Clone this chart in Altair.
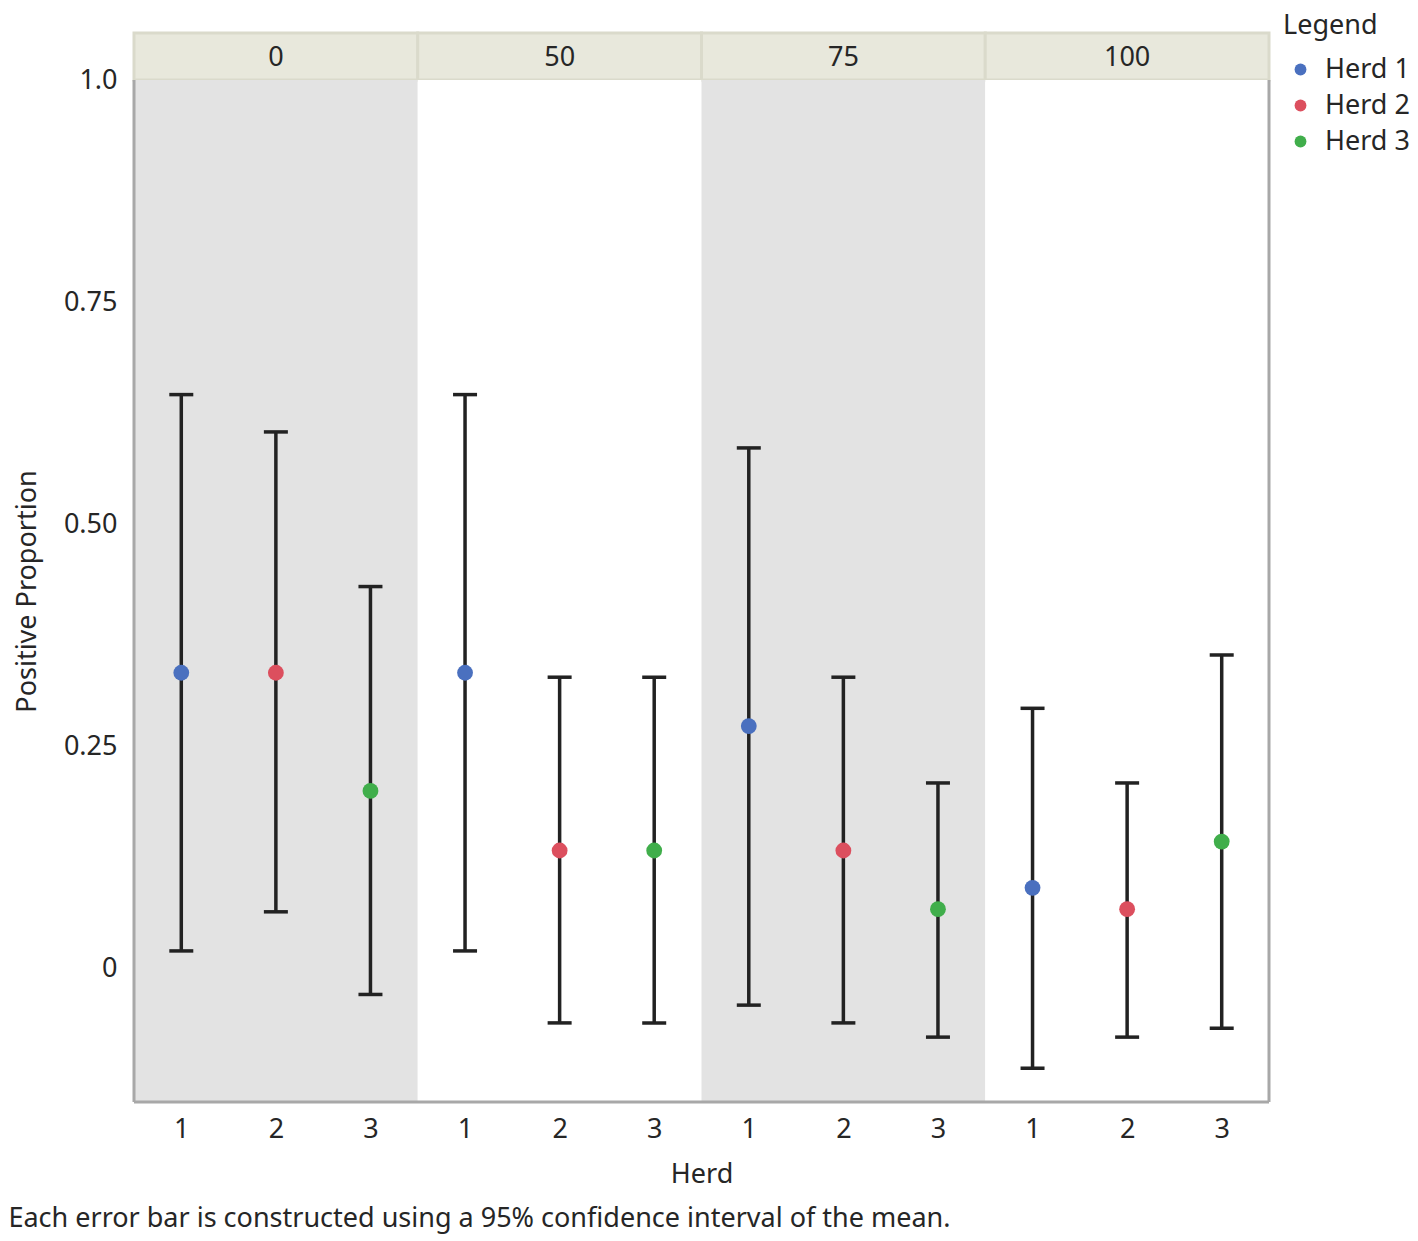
import altair as alt
import pandas as pd

# ---- data ----
concentrations = ["0", "50", "75", "100"]
herds = ["Herd 1", "Herd 2", "Herd 3"]
means = [0.333, 0.333, 0.200,
         0.333, 0.133, 0.133,
         0.273, 0.133, 0.067,
         0.091, 0.067, 0.143]
lowers = [0.020, 0.064, -0.029,
          0.020, -0.061, -0.061,
          -0.041, -0.061, -0.077,
          -0.112, -0.077, -0.067]
uppers = [0.646, 0.604, 0.430,
          0.646, 0.328, 0.328,
          0.586, 0.328, 0.209,
          0.293, 0.209, 0.353]
caption = "Each error bar is constructed using a 95% confidence interval of the mean."

herd_colors = ["#4a70bf", "#dc4f5e", "#40ae4b"]

rows = []
for pi, c in enumerate(concentrations):
    for hi, h in enumerate(herds):
        k = pi * len(herds) + hi
        rows.append({"conc": c, "herd": h, "slot": k + 0.5,
                     "mean": means[k], "lo": lowers[k], "hi": uppers[k]})
df = pd.DataFrame(rows)

panels = pd.DataFrame({
    "conc": concentrations,
    "start": [i * len(herds) for i in range(len(concentrations))],
})
panels["end"] = panels["start"] + len(herds)
panels["mid"] = panels["start"] + len(herds) / 2
panels["shade"] = [i % 2 == 0 for i in range(len(concentrations))]

W = 1135
H = 1022
HH = 47
FONT = "Noto Sans"
FS = 27
TXT = "#262626"
n_slots = len(concentrations) * len(herds)

xscale = alt.Scale(domain=[0, n_slots], nice=False, zero=False)
yscale = alt.Scale(domain=[-0.15, 1.0], nice=False, zero=False)

xaxis = alt.Axis(
    values=[i + 0.5 for i in range(n_slots)],
    labelExpr="floor(datum.value) % 3 + 1",
    title="Herd", grid=False, ticks=False, domain=False,
    labelFontSize=FS, labelPadding=14, titleFontSize=FS, titlePadding=19,
    labelColor=TXT, titleColor=TXT, titleFontWeight="normal",
)
yaxis = alt.Axis(
    values=[0, 0.25, 0.5, 0.75, 1.0],
    labelExpr="datum.value == 0 ? '0' : datum.value == 1 ? '1.0' : format(datum.value, '.2f')",
    title="Positive Proportion", grid=False, ticks=False, domain=False,
    labelFontSize=FS, labelPadding=17, titleFontSize=FS, titlePadding=22,
    labelColor=TXT, titleColor=TXT, titleFontWeight="normal",
)

# ---- header strip ----
hbase = alt.Chart(panels)
hrect = hbase.mark_rect(fill="#e8e8dc", stroke="#dadacb", strokeWidth=3).encode(
    x=alt.X("start:Q", scale=xscale, axis=None),
    x2="end:Q",
    y=alt.value(0), y2=alt.value(HH),
)
htext = hbase.mark_text(fontSize=FS, color=TXT, font=FONT).encode(
    x=alt.X("mid:Q", scale=xscale, axis=None),
    y=alt.value(HH / 2 + 1),
    text="conc:N",
)
header = alt.layer(hrect, htext).properties(width=W, height=HH)

# ---- main panel ----
bands = alt.Chart(panels).mark_rect().encode(
    x=alt.X("start:Q", scale=xscale, axis=xaxis),
    x2="end:Q",
    y=alt.value(0), y2=alt.value(H),
    fill=alt.condition("datum.shade", alt.value("#e3e3e3"), alt.value("#ffffff")),
)
base = alt.Chart(df)
bars = base.mark_rule(color="#222222", strokeWidth=3.5).encode(
    x=alt.X("slot:Q", scale=xscale, axis=xaxis),
    y=alt.Y("lo:Q", scale=yscale, axis=yaxis),
    y2="hi:Q",
)
caps_hi = base.mark_tick(orient="horizontal", size=24, thickness=3.5, color="#222222", opacity=1).encode(
    x=alt.X("slot:Q", scale=xscale, axis=xaxis),
    y=alt.Y("hi:Q", scale=yscale, axis=yaxis),
)
caps_lo = base.mark_tick(orient="horizontal", size=24, thickness=3.5, color="#222222", opacity=1).encode(
    x=alt.X("slot:Q", scale=xscale, axis=xaxis),
    y=alt.Y("lo:Q", scale=yscale, axis=yaxis),
)
points = base.mark_circle(size=250, opacity=1).encode(
    x=alt.X("slot:Q", scale=xscale, axis=xaxis),
    y=alt.Y("mean:Q", scale=yscale, axis=yaxis),
    color=alt.Color(
        "herd:N",
        scale=alt.Scale(domain=herds, range=herd_colors),
        legend=alt.Legend(
            title="Legend", orient="none", legendX=1149, legendY=-20,
            titleFontSize=FS, labelFontSize=FS, titleFontWeight="normal",
            titleColor=TXT, labelColor=TXT, titlePadding=16,
            symbolType="circle", symbolSize=140, symbolOffset=4,
            labelOffset=11, rowPadding=8, symbolStrokeWidth=0, padding=0,
        ),
    ),
)
one = pd.DataFrame({"k": [0]})
frame_l = alt.Chart(one).mark_rule(color="#a8a8a8", strokeWidth=3).encode(
    x=alt.value(0), y=alt.value(0), y2=alt.value(H))
frame_r = alt.Chart(one).mark_rule(color="#a8a8a8", strokeWidth=3).encode(
    x=alt.value(W), y=alt.value(0), y2=alt.value(H))
frame_b = alt.Chart(one).mark_rule(color="#a8a8a8", strokeWidth=3).encode(
    x=alt.value(0), x2=alt.value(W), y=alt.value(H))

main = alt.layer(bands, bars, caps_hi, caps_lo, points, frame_l, frame_r, frame_b).properties(
    width=W, height=H)

chart = alt.vconcat(header, main, spacing=0, bounds="flush").properties(
    title=alt.TitleParams(
        text=caption, orient="bottom", anchor="start", frame="bounds",
        fontSize=FS, fontWeight="normal", color=TXT, font=FONT, offset=19, dx=-5,
    ),
    padding={"left": 0, "top": 5, "right": 0, "bottom": 6},
).configure(font=FONT).configure_view(stroke=None)

chart.save("out.html", embed_options={"renderer": "svg", "actions": False})
